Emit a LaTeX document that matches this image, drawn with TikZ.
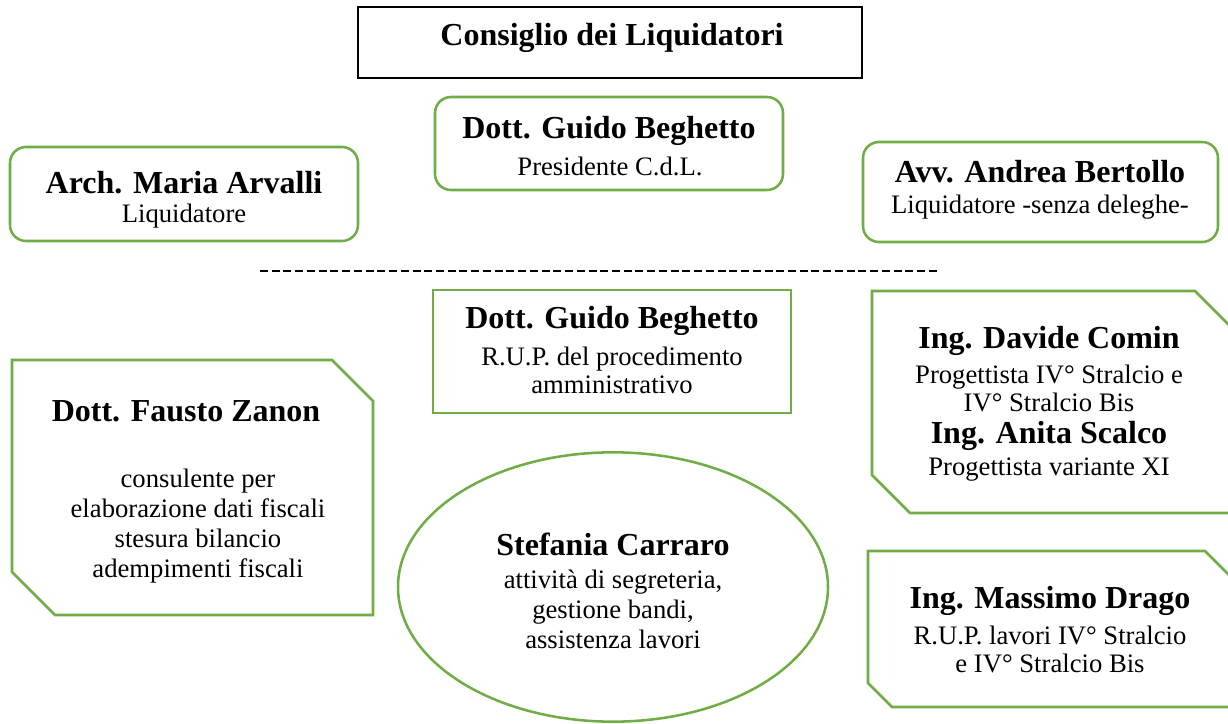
\documentclass[tikz,border=0pt]{standalone}
\usepackage{fontspec}
\setmainfont{Liberation Serif}
\definecolor{gr}{HTML}{70AD47}
\begin{document}
\begin{tikzpicture}[x=0.75pt,y=-0.75pt,
  grline/.style={draw=gr, line width=1.9pt},
  rbox/.style={grline, rounded corners=12pt},
  nm/.style={font=\fontsize{24}{26}\selectfont\bfseries, inner sep=0pt},
  ds/.style={font=\fontsize{20}{21}\selectfont, align=center, inner sep=0pt},
  dsw/.style={font=\fontsize{20}{22.5}\selectfont, align=center, inner sep=0pt},
]
\useasboundingbox[fill=white] (0,0) rectangle (1228,724);

% title
\draw[line width=1.8pt] (358,7) rectangle (862,78);
\node[nm] (title) at (612,38) {Consiglio dei Liquidatori};

% top row
\draw[rbox] (435,97) rectangle (783,190);
\node[nm] (beg1) at (609,131) {Dott. Guido Beghetto};
\node[ds] (beg1d) at (610,166) {Presidente C.d.L.};

\draw[rbox] (10,147) rectangle (358,241);
\node[nm] (arv) at (184,183) {Arch. Maria Arvalli};
\node[ds] (arvd) at (184,216) {Liquidatore};

\draw[rbox] (863,142) rectangle (1218,242);
\node[nm] (ber) at (1040,172) {Avv. Andrea Bertollo};
\node[ds] (berd) at (1040,207) {Liquidatore -senza deleghe-};

% separator
\draw[line width=1.8pt, dash pattern=on 6pt off 2.8pt] (260,271) -- (940,271);

% RUP box
\draw[grline] (433,290) rectangle (791,413);
\node[nm] (beg2) at (612,321) {Dott. Guido Beghetto};
\node[ds] (beg2d) at (612,370) {R.U.P. del procedimento\\amministrativo};

% Zanon
\draw[grline] (12,360) -- (332,360) -- (373,401) -- (373,615) -- (55,615) -- (12,572) -- cycle;
\node[nm] (zan) at (186,411) {Dott. Fausto Zanon};
\node[dsw] (zand) at (198,526) {consulente per\\elaborazione dati fiscali\\stesura bilancio\\adempimenti fiscali};

% Comin / Scalco
\draw[grline] (1260,356) -- (1195,291) -- (872,291) -- (872,475) -- (910,513) -- (1260,513);
\node[nm] (com) at (1049,341) {Ing. Davide Comin};
\node[ds] (comd) at (1049,388) {Progettista IV° Stralcio e\\IV° Stralcio Bis};
\node[nm] (sca) at (1049,436) {Ing. Anita Scalco};
\node[ds] (scad) at (1049,470) {Progettista variante XI};

% Drago
\draw[grline] (1260,606) -- (1205,551) -- (868,551) -- (868,683) -- (892,707) -- (1260,707);
\node[nm] (dra) at (1050,601) {Ing. Massimo Drago};
\node[ds] (drad) at (1050,649) {R.U.P. lavori IV° Stralcio\\e IV° Stralcio Bis};

% Carraro ellipse
\draw[grline] (613,587) ellipse [x radius=161.25pt, y radius=101pt];
\node[nm] (car) at (613,544) {Stefania Carraro};
\node[dsw] (card) at (613,609) {attività di segreteria,\\gestione bandi,\\assistenza lavori};
\end{tikzpicture}
\end{document}
